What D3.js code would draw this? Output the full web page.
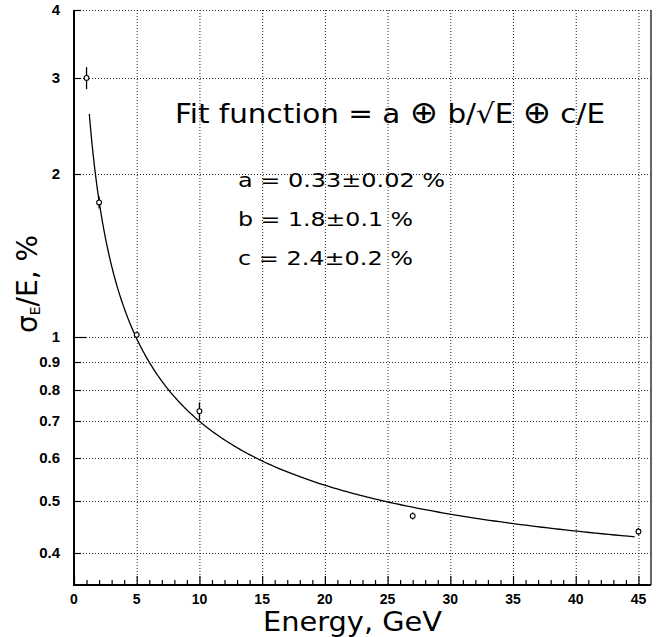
<!DOCTYPE html>
<html>
<head>
<meta charset="utf-8">
<script src="https://cdn.jsdelivr.net/npm/d3@7"></script>
<style>
  html, body { margin: 0; padding: 0; background: #fff; }
  svg { display: block; }
</style>
</head>
<body>
<svg id="chart" width="658" height="637"></svg>
<script>
// ---- data ----
const energy = [1, 2, 5, 10, 27, 45];               // GeV
const resolution = [3.0, 1.77, 1.01, 0.731, 0.469, 0.439]; // sigma_E/E, %
const resError = [0.14, 0.045, 0.013, 0.028, 0.007, 0.007];
const fitParams = { a: 0.33, b: 1.8, c: 2.4 };      // fit result, %
const fitRange = [1.22, 44.7];
const xTicks = [0, 5, 10, 15, 20, 25, 30, 35, 40, 45];
const xMinorTicks = d3.range(0, 46, 1);
const yTicks = [0.4, 0.5, 0.6, 0.7, 0.8, 0.9, 1, 2, 3, 4];
const yTickLabels = ["0.4", "0.5", "0.6", "0.7", "0.8", "0.9", "1", "2", "3", "4"];
const fitTitleParts = ["Fit function = a ", "\u2295", " b/\u221AE ", "\u2295", " c/E"];
const paramLines = ["a = 0.33\u00B10.02 %", "b = 1.8\u00B10.1 %", "c = 2.4\u00B10.2 %"];

// ---- layout ----
const svg = d3.select("#chart");
const L = 74, R = 651, T = 10, B = 585;
const x = d3.scaleLinear().domain([0, 46]).range([L, R]);
const y = d3.scaleLog().domain([0.35, 4]).range([B, T]);

const mainFont = "'DejaVu Sans', sans-serif";
const tickFont = "'Liberation Sans', Arial, sans-serif";

// grid
const grid = svg.append("g").attr("stroke", "#222").attr("stroke-width", 1)
  .attr("stroke-dasharray", "1,2").attr("fill", "none");
grid.selectAll("line.v").data(xTicks.filter(d => d > 0)).enter().append("line")
  .attr("x1", d => x(d) + 0.5).attr("x2", d => x(d) + 0.5)
  .attr("y1", T).attr("y2", B);
grid.selectAll("line.h").data(yTicks).enter().append("line")
  .attr("x1", L).attr("x2", R)
  .attr("y1", d => Math.round(y(d)) + 0.5).attr("y2", d => Math.round(y(d)) + 0.5);

// frame: left, bottom solid; right solid thin
svg.append("line").attr("x1", R).attr("x2", R).attr("y1", T).attr("y2", B)
  .attr("stroke", "#333").attr("stroke-width", 1.5);
svg.append("line").attr("x1", L).attr("x2", L).attr("y1", T).attr("y2", B + 1)
  .attr("stroke", "#000").attr("stroke-width", 2);
svg.append("line").attr("x1", L - 1).attr("x2", R).attr("y1", B).attr("y2", B)
  .attr("stroke", "#000").attr("stroke-width", 2);

// x ticks (inward, upward)
svg.append("g").selectAll("line").data(xMinorTicks).enter().append("line")
  .attr("x1", d => x(d) + 0.5).attr("x2", d => x(d) + 0.5)
  .attr("y1", B).attr("y2", d => d % 5 === 0 ? B - 9 : B - 5)
  .attr("stroke", "#000").attr("stroke-width", 1.2);
// y ticks (inward, rightward)
svg.append("g").selectAll("line").data(yTicks).enter().append("line")
  .attr("x1", L).attr("x2", d => d === 1 ? L + 12 : L + 7)
  .attr("y1", d => Math.round(y(d)) + 0.5).attr("y2", d => Math.round(y(d)) + 0.5)
  .attr("stroke", "#000").attr("stroke-width", 1.2);

// tick labels
svg.append("g").selectAll("text").data(xTicks).enter().append("text")
  .attr("x", d => x(d)).attr("y", 604)
  .attr("text-anchor", "middle")
  .attr("font-family", tickFont).attr("font-weight", "bold").attr("font-size", 14)
  .text(d => d);
svg.append("g").selectAll("text").data(yTicks).enter().append("text")
  .attr("x", 60).attr("y", d => y(d) + 5)
  .attr("text-anchor", "end")
  .attr("font-family", tickFont).attr("font-weight", "bold").attr("font-size", 15)
  .text((d, i) => yTickLabels[i]);

// fit curve
const fitFn = E => Math.sqrt(fitParams.a ** 2 + fitParams.b ** 2 / E + fitParams.c ** 2 / (E * E));
const curveE = d3.range(0, 301).map(i => fitRange[0] * Math.pow(fitRange[1] / fitRange[0], i / 300));
svg.append("path")
  .datum(curveE)
  .attr("d", d3.line().x(d => x(d)).y(d => y(fitFn(d))))
  .attr("fill", "none").attr("stroke", "#000").attr("stroke-width", 1.3);

// data points with error bars
const pts = svg.append("g");
energy.forEach((E, i) => {
  pts.append("line")
    .attr("x1", x(E)).attr("x2", x(E))
    .attr("y1", y(resolution[i] + resError[i])).attr("y2", y(resolution[i] - resError[i]))
    .attr("stroke", "#000").attr("stroke-width", 1.3);
  pts.append("circle")
    .attr("cx", x(E)).attr("cy", y(resolution[i])).attr("r", 2.4)
    .attr("fill", "#fff").attr("stroke", "#000").attr("stroke-width", 1.1);
});

// annotation text
const ft = svg.append("text")
  .attr("x", 175).attr("y", 123)
  .attr("font-family", mainFont).attr("font-size", 27)
  .attr("textLength", 430).attr("lengthAdjust", "spacingAndGlyphs");
fitTitleParts.forEach(p => {
  const ts = ft.append("tspan").text(p);
  if (p === "\u2295") ts.attr("font-size", 31).attr("font-family", "'Noto Sans', 'DejaVu Sans', sans-serif");
});
const paramY = [187, 226, 265];
const paramLen = [207, 175, 175];
paramLines.forEach((t, i) => {
  svg.append("text")
    .attr("x", 238).attr("y", paramY[i])
    .attr("font-family", mainFont).attr("font-size", 20)
    .attr("textLength", paramLen[i]).attr("lengthAdjust", "spacingAndGlyphs")
    .text(t);
});

// axis titles
svg.append("text")
  .attr("x", 263).attr("y", 631)
  .attr("font-family", mainFont).attr("font-size", 27)
  .attr("textLength", 179).attr("lengthAdjust", "spacingAndGlyphs")
  .text("Energy, GeV");

const yl = svg.append("text")
  .attr("transform", "translate(37,333) rotate(-90)")
  .attr("font-family", mainFont).attr("font-size", 28);
yl.append("tspan").text("\u03C3");
yl.append("tspan").attr("font-size", 14).attr("dy", 3).text("E");
yl.append("tspan").attr("dy", -3).text("/E, %");
</script>
</body>
</html>
